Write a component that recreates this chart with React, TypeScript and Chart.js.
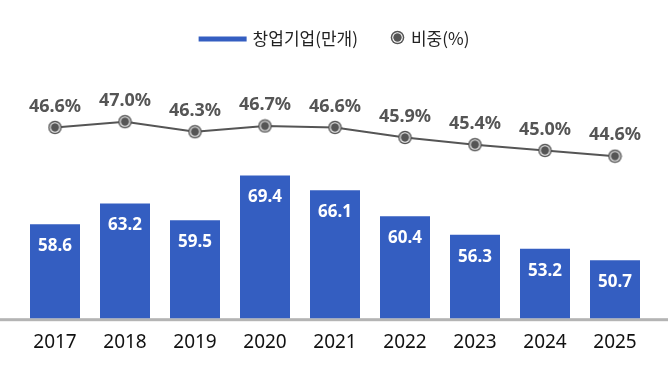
import React, { useEffect, useRef } from "react";
import { Chart, registerables } from "chart.js";

Chart.register(...registerables);

const categories = ["2017", "2018", "2019", "2020", "2021", "2022", "2023", "2024", "2025"];
const startups = [58.6, 63.2, 59.5, 69.4, 66.1, 60.4, 56.3, 53.2, 50.7];
const shares = [46.6, 47.0, 46.3, 46.7, 46.6, 45.9, 45.4, 45.0, 44.6];
const seriesNames = ["창업기업(만개)", "비중(%)"];

const BAR_COLOR = "#345EC1";
const LINE_COLOR = "#555555";
const FONT = "'Noto Sans', 'Noto Sans CJK KR', sans-serif";
const KFONT = "'Noto Sans CJK KR', 'Noto Sans', sans-serif";

function makeMarker(): HTMLCanvasElement {
  const c = document.createElement("canvas");
  c.width = 15;
  c.height = 15;
  const g = c.getContext("2d")!;
  g.fillStyle = LINE_COLOR;
  g.beginPath();
  g.arc(7.5, 7.5, 6.8, 0, Math.PI * 2);
  g.fill();
  g.fillStyle = "#ffffff";
  g.beginPath();
  g.arc(7.5, 7.5, 5.3, 0, Math.PI * 2);
  g.fill();
  g.fillStyle = LINE_COLOR;
  g.beginPath();
  g.arc(7.5, 7.5, 4.2, 0, Math.PI * 2);
  g.fill();
  return c;
}

export default function App() {
  const ref = useRef<HTMLCanvasElement>(null);

  useEffect(() => {
    document.body.style.margin = "0";
    const marker = makeMarker();

    const baselinePlugin = {
      id: "baseline",
      beforeDatasetsDraw(chart: any) {
        const { ctx, chartArea, width } = chart;
        ctx.save();
        ctx.fillStyle = "#b4b4b4";
        ctx.fillRect(0, chartArea.bottom, width, 3);
        ctx.restore();
      },
    };

    const labelsPlugin = {
      id: "valueLabels",
      afterDatasetsDraw(chart: any) {
        const { ctx } = chart;
        ctx.save();
        ctx.textAlign = "center";
        ctx.textBaseline = "middle";
        const barMeta = chart.getDatasetMeta(0);
        ctx.fillStyle = "#ffffff";
        ctx.font = `bold 17px ${FONT}`;
        barMeta.data.forEach((el: any, i: number) => {
          ctx.fillText(startups[i].toFixed(1), el.x, el.y + 22);
        });
        const lineMeta = chart.getDatasetMeta(1);
        ctx.fillStyle = LINE_COLOR;
        ctx.font = `bold 18px ${FONT}`;
        lineMeta.data.forEach((el: any, i: number) => {
          ctx.fillText(shares[i].toFixed(1) + "%", el.x, el.y - 21);
        });
        ctx.restore();
      },
    };

    const legendPlugin = {
      id: "customLegend",
      afterDraw(chart: any) {
        const { ctx, width } = chart;
        ctx.save();
        ctx.font = `17px ${KFONT}`;
        ctx.textBaseline = "middle";
        ctx.textAlign = "left";
        const w1 = ctx.measureText(seriesNames[0]).width;
        const w2 = ctx.measureText(seriesNames[1]).width;
        const lineW = 48;
        const gap1 = 6;
        const gapItems = 33;
        const markW = 13;
        const gap2 = 7;
        const total = lineW + gap1 + w1 + gapItems + markW + gap2 + w2;
        let x = (width - total) / 2;
        const cy = 39;
        ctx.fillStyle = BAR_COLOR;
        ctx.fillRect(x, cy - 2.5, lineW, 5);
        x += lineW + gap1;
        ctx.fillStyle = "#222222";
        ctx.fillText(seriesNames[0], x, cy);
        x += w1 + gapItems;
        ctx.drawImage(marker, x + markW / 2 - 7.5, cy - 1.5 - 7.5);
        x += markW + gap2;
        ctx.fillStyle = "#222222";
        ctx.fillText(seriesNames[1], x, cy);
        ctx.restore();
      },
    };

    const chart = new Chart(ref.current!, {
      type: "bar",
      data: {
        labels: categories,
        datasets: [
          {
            type: "bar",
            label: seriesNames[0],
            data: startups,
            backgroundColor: BAR_COLOR,
            categoryPercentage: 1,
            barPercentage: 50 / 70,
            grouped: false,
            yAxisID: "y",
            order: 2,
          },
          {
            type: "line",
            label: seriesNames[1],
            data: shares,
            borderColor: LINE_COLOR,
            borderWidth: 2,
            pointStyle: marker as any,
            pointRadius: 7,
            yAxisID: "y2",
            order: 1,
          } as any,
        ],
      },
      options: {
        animation: false,
        responsive: false,
        events: [],
        layout: { padding: { top: 70, left: 20, right: 18, bottom: 13 } },
        plugins: {
          legend: { display: false },
          tooltip: { enabled: false },
        },
        scales: {
          x: {
            type: "category",
            offset: true,
            grid: { display: false, drawTicks: false },
            border: { display: false },
            ticks: {
              color: "#111111",
              font: { family: FONT, size: 19 },
              padding: 13,
              maxRotation: 0,
            },
          },
          y: {
            display: false,
            min: 37.9,
            max: 92.65,
          },
          y2: {
            display: false,
            min: 33.34,
            max: 50.59,
          },
        },
      },
      plugins: [baselinePlugin, labelsPlugin, legendPlugin],
    });
    return () => chart.destroy();
  }, []);

  return (
    <div style={{ width: 668, height: 380 }}>
      <canvas ref={ref} width={668} height={380} style={{ display: "block" }} />
    </div>
  );
}
